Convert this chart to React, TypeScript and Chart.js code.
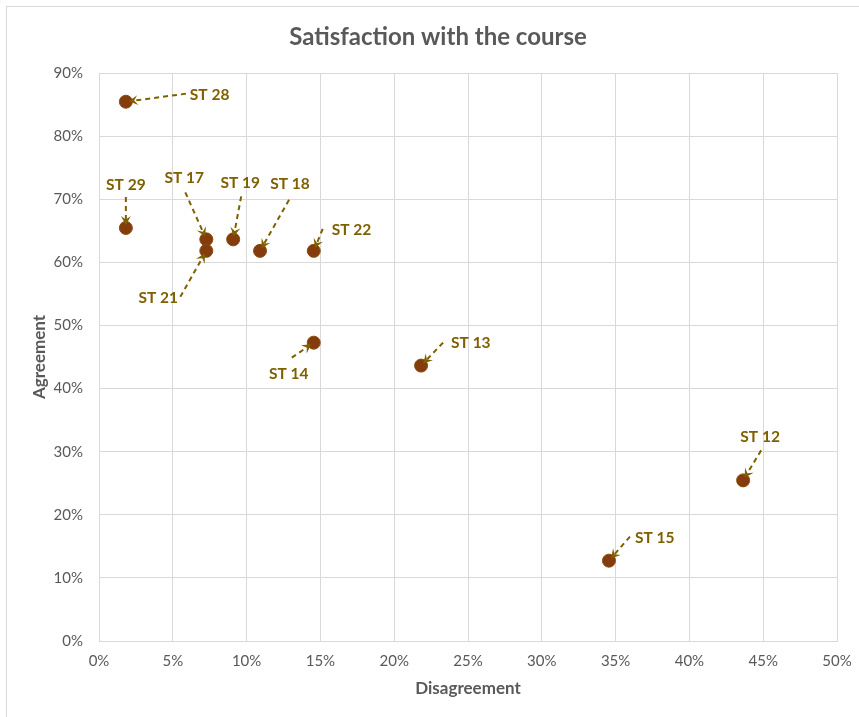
import React, { useEffect, useRef } from "react";
import { Chart, registerables } from "chart.js";

Chart.register(...registerables);

const students = ["ST 28", "ST 29", "ST 17", "ST 21", "ST 19", "ST 18", "ST 22", "ST 14", "ST 13", "ST 15", "ST 12"];
const disagreement = [1.82, 1.82, 7.27, 7.27, 9.09, 10.91, 14.55, 14.55, 21.82, 34.55, 43.64];
const agreement = [85.45, 65.45, 63.64, 61.82, 63.64, 61.82, 61.82, 47.27, 43.64, 12.73, 25.45];

const chartTitle = "Satisfaction with the course";
const xTitle = "Disagreement";
const yTitle = "Agreement";

// label placement relative to point (px): text center offset, leader start offset
const labelLayout: Record<string, { tx: number; ty: number; lx: number; ly: number; align: CanvasTextAlign }> = {
  "ST 28": { tx: 64, ty: -7, lx: 60, ly: -8, align: "left" },
  "ST 29": { tx: 0, ty: -43, lx: 0, ly: -31, align: "center" },
  "ST 17": { tx: -22, ty: -61, lx: -21, ly: -47, align: "center" },
  "ST 19": { tx: 7, ty: -56, lx: 8, ly: -43, align: "center" },
  "ST 18": { tx: 30, ty: -67, lx: 29, ly: -51, align: "center" },
  "ST 22": { tx: 18, ty: -21, lx: 9, ly: -22, align: "left" },
  "ST 21": { tx: -48, ty: 47, lx: -26, ly: 46, align: "center" },
  "ST 14": { tx: -25, ty: 31, lx: -22, ly: 15, align: "center" },
  "ST 13": { tx: 30, ty: -23, lx: 22, ly: -23, align: "left" },
  "ST 15": { tx: 26, ty: -23, lx: 21, ly: -24, align: "left" },
  "ST 12": { tx: 17, ty: -43, lx: 18, ly: -30, align: "center" },
};

const FONT = "Lato, 'Open Sans', sans-serif";
const GREY = "#595959";
const GOLD = "#7f6000";

const decorPlugin = {
  id: "decor",
  beforeDraw(chart: any) {
    const ctx = chart.ctx;
    ctx.save();
    ctx.fillStyle = "#ffffff";
    ctx.fillRect(0, 0, chart.width, chart.height);
    ctx.strokeStyle = "#d9d9d9";
    ctx.lineWidth = 1;
    ctx.strokeRect(6.5, 6.5, chart.width + 20, chart.height + 20);
    ctx.restore();
  },
  afterDraw(chart: any) {
    const ctx = chart.ctx;
    const ca = chart.chartArea;
    ctx.save();
    ctx.fillStyle = GREY;
    ctx.textAlign = "center";
    ctx.textBaseline = "middle";
    ctx.font = `bold 24px ${FONT}`;
    ctx.fillText(chartTitle, 438, 37);
    ctx.font = `bold 17px ${FONT}`;
    ctx.fillText(xTitle, (ca.left + ca.right) / 2, 689);
    ctx.translate(40, (ca.top + ca.bottom) / 2);
    ctx.rotate(-Math.PI / 2);
    ctx.fillText(yTitle, 0, 0);
    ctx.restore();

    // data labels with leader lines
    const meta = chart.getDatasetMeta(0);
    ctx.save();
    ctx.font = `bold 15.5px ${FONT}`;
    ctx.textBaseline = "middle";
    meta.data.forEach((pt: any, i: number) => {
      const name = students[i];
      const L = labelLayout[name];
      if (!L) return;
      const px = pt.x, py = pt.y;
      const sx = px + L.lx, sy = py + L.ly;
      const dx = px - sx, dy = py - sy;
      const len = Math.hypot(dx, dy);
      const ux = dx / len, uy = dy / len;
      const ex = px - ux * 3, ey = py - uy * 3;
      ctx.strokeStyle = GOLD;
      ctx.lineWidth = 2;
      ctx.setLineDash([5, 4]);
      ctx.beginPath();
      ctx.moveTo(sx, sy);
      ctx.lineTo(ex - ux * 5, ey - uy * 5);
      ctx.stroke();
      ctx.setLineDash([]);
      // arrowhead
      const ah = 9, aw = 5;
      ctx.fillStyle = GOLD;
      ctx.beginPath();
      ctx.moveTo(ex, ey);
      ctx.lineTo(ex - ux * ah - uy * aw, ey - uy * ah + ux * aw);
      ctx.lineTo(ex - ux * ah * 0.6, ey - uy * ah * 0.6);
      ctx.lineTo(ex - ux * ah + uy * aw, ey - uy * ah - ux * aw);
      ctx.closePath();
      ctx.fill();
      ctx.fillStyle = GOLD;
      ctx.textAlign = L.align;
      ctx.fillText(name, px + L.tx, py + L.ty);
    });
    ctx.restore();
  },
};

export default function App() {
  const ref = useRef<HTMLCanvasElement | null>(null);
  useEffect(() => {
    if (!ref.current) return;
    const chart = new Chart(ref.current, {
      type: "scatter",
      data: {
        datasets: [
          {
            label: "Students",
            data: disagreement.map((x, i) => ({ x, y: agreement[i] })),
            backgroundColor: "#843c0c",
            borderColor: "#8a4a10",
            borderWidth: 1,
            pointRadius: 6.5,
          },
        ],
      },
      options: {
        responsive: false,
        animation: false,
        layout: { padding: { left: 0, right: 22, top: 73, bottom: 0 } },
        plugins: { legend: { display: false }, tooltip: { enabled: false }, title: { display: false } },
        scales: {
          x: {
            type: "linear",
            min: 0,
            max: 50,
            afterFit: (s: any) => { s.height = 76; s.paddingLeft = 0; s.paddingRight = 0; },
            ticks: {
              stepSize: 5,
              padding: 11,
              color: GREY,
              font: { family: FONT, size: 15 },
              callback: (v: any) => v + "%",
            },
            grid: { color: "#d9d9d9", drawTicks: false, lineWidth: 1 },
            border: { color: "#d9d9d9" },
          },
          y: {
            type: "linear",
            min: 0,
            max: 90,
            afterFit: (s: any) => { s.width = 99; s.paddingTop = 0; s.paddingBottom = 0; },
            ticks: {
              stepSize: 10,
              padding: 16,
              color: GREY,
              font: { family: FONT, size: 15 },
              callback: (v: any) => v + "%",
            },
            grid: { color: "#d9d9d9", drawTicks: false, lineWidth: 1 },
            border: { color: "#d9d9d9" },
          },
        },
      },
      plugins: [decorPlugin],
    });
    return () => chart.destroy();
  }, []);
  return (
    <div style={{ position: "absolute", left: 0, top: 0, width: 859, height: 717 }}>
      <canvas ref={ref} width={859} height={717} style={{ display: "block" }} />
    </div>
  );
}
